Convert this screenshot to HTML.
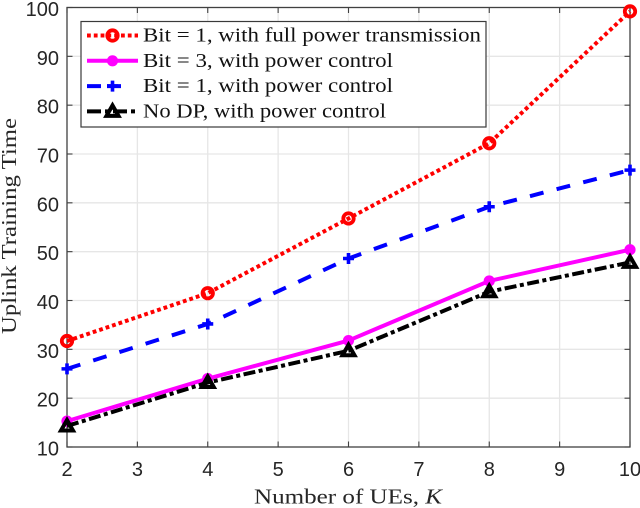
<!DOCTYPE html>
<html>
<head>
<meta charset="utf-8">
<style>
html,body{margin:0;padding:0;background:#fff;}
svg{display:block;filter:blur(0.35px);}
.tick{font-family:"Liberation Sans",sans-serif;font-size:20px;fill:#262626;}
.lab{font-family:"Liberation Serif",serif;font-size:21px;fill:#262626;}
.leg{font-family:"Liberation Serif",serif;font-size:20.5px;fill:#111;}
</style>
</head>
<body>
<svg id="chart" width="640" height="508" viewBox="0 0 640 508" xmlns="http://www.w3.org/2000/svg"></svg>
<script>
const categories = [2, 4, 6, 8, 10];
const fullPowerBit1 = [31.7, 41.5, 56.8, 72.2, 99.2];
const powerControlBit3 = [15.3, 24.0, 31.8, 44.0, 50.4];
const powerControlBit1 = [26.0, 35.2, 48.6, 59.2, 66.7];
const noDpPowerControl = [14.3, 23.2, 29.7, 41.8, 47.8];
const xTicks = [2, 3, 4, 5, 6, 7, 8, 9, 10];
const yTicks = [10, 20, 30, 40, 50, 60, 70, 80, 90, 100];
const legendLabels = [
  "Bit = 1, with full power transmission",
  "Bit = 3, with power control",
  "Bit = 1, with power control",
  "No DP, with power control"
];

const NS = "http://www.w3.org/2000/svg";
const svg = document.getElementById("chart");
const L = 67, R = 630, T = 7.5, B = 447;
const xScale = v => L + (v - 2) / 8 * (R - L);
const yScale = v => B - (v - 10) / 90 * (B - T);

function make(tag, attrs, parent) {
  const el = document.createElementNS(NS, tag);
  for (const k in attrs) el.setAttribute(k, attrs[k]);
  (parent || svg).appendChild(el);
  return el;
}

// Grid
const grid = make("g", {});


xTicks.forEach(t => {
  if (t === 2 || t === 10) return;
  const l = make("line", {x1: xScale(t), x2: xScale(t), y1: T, y2: B, stroke: "#e6e6e6", "stroke-width": 1.3}, grid);
  
  
});
yTicks.forEach(t => {
  if (t === 10 || t === 100) return;
  const l = make("line", {x1: L, x2: R, y1: yScale(t), y2: yScale(t), stroke: "#e6e6e6", "stroke-width": 1.3}, grid);
  
  
});

// Axes box
const box = make("rect", {x: L, y: T, width: R - L, height: B - T, fill: "none", stroke: "#404040", "stroke-width": 1.3});



// Ticks and tick labels
xTicks.forEach(t => {
  const x = xScale(t);
  const a = make("line", {x1: x, x2: x, y1: B, y2: B - 5.5, stroke: "#404040", "stroke-width": 1.1});
  
  
  const b = make("line", {x1: x, x2: x, y1: T, y2: T + 5.5, stroke: "#404040", "stroke-width": 1.1});
  
  
  const s = make("text", {x: x, y: 476, "text-anchor": "middle", class: "tick"});
  
  
  s.textContent = t;
});
yTicks.forEach(t => {
  const y = yScale(t);
  const a = make("line", {x1: L, x2: L + 5.5, y1: y, y2: y, stroke: "#404040", "stroke-width": 1.1});
  
  
  const b = make("line", {x1: R, x2: R - 5.5, y1: y, y2: y, stroke: "#404040", "stroke-width": 1.1});
  
  
  const s = make("text", {x: 59, y: y + 8.5, "text-anchor": "end", class: "tick"});
  
  
  s.textContent = t;
});

// Axis titles
const xTitle = make("text", {x: 254, y: 503.5, class: "lab", textLength: 188, lengthAdjust: "spacingAndGlyphs"});


xTitle.textContent = "Number of UEs, ";
const kVar = make("tspan", {"font-style": "italic"}, xTitle);
kVar.textContent = "K";
const yTitle = make("text", {transform: "translate(16,334) rotate(-90)", class: "lab", textLength: 216, lengthAdjust: "spacingAndGlyphs"});


yTitle.textContent = "Uplink Training Time";

// Markers
function marker(kind, x, y, color, parent) {
  let m;
  if (kind === "circle") m = make("circle", {cx: x, cy: y, r: 5.2, fill: "none", stroke: color, "stroke-width": 3.8}, parent);
  if (kind === "dot") m = make("circle", {cx: x, cy: y, r: 5.6, fill: color, stroke: "none"}, parent);
  if (kind === "plus") m = make("path", {d: `M${x-5.5} ${y}H${x+5.5}M${x} ${y-5.5}V${y+5.5}`, fill: "none", stroke: color, "stroke-width": 3.6}, parent);
  if (kind === "triangle") m = make("path", {d: `M${x} ${y-6}L${x+6} ${y+4.5}H${x-6}Z`, fill: "none", stroke: color, "stroke-width": 4, "stroke-linejoin": "miter"}, parent);
  
  
}

// Series
function drawSeries(name, values, color, dash, kind) {
  const g = make("g", {});
  
  
  const pts = values.map((v, i) => xScale(categories[i]) + "," + yScale(v)).join(" ");
  const attrs = {points: pts, fill: "none", stroke: color, "stroke-width": 4, "stroke-linejoin": "round"};
  if (dash) attrs["stroke-dasharray"] = dash;
  const line = make("polyline", attrs, g);
  
  
  values.forEach((v, i) => marker(kind, xScale(categories[i]), yScale(v), color, g));
}
drawSeries("series-full-power-bit-1", fullPowerBit1, "#ff0000", "3.8 3", "circle");
drawSeries("series-power-control-bit-3", powerControlBit3, "#ff00ff", "", "dot");
drawSeries("series-power-control-bit-1", powerControlBit1, "#0000ff", "14 13.5", "plus");
drawSeries("series-no-dp", noDpPowerControl, "#000000", "12 3.5 4 3.5", "triangle");

// Legend
const legend = make("g", {});


const legendBox = make("rect", {x: 81, y: 21.5, width: 405, height: 105.5, fill: "#fff", stroke: "#3a3a3a", "stroke-width": 1.2}, legend);


const legColors = ["#ff0000", "#ff00ff", "#0000ff", "#000000"];
const legDash = ["3.8 3", "", "14 6", "14 4 4 4"];
const legKinds = ["circle", "dot", "plus", "triangle"];
const legWidths = [338, 250, 250, 243];
legendLabels.forEach((label, i) => {
  const y = 35.5 + i * 25.3;
  const g = make("g", {}, legend);
  
  
  const attrs = {x1: 87, x2: i === 2 ? 127 : 138, y1: y, y2: y, stroke: legColors[i], "stroke-width": 4};
  if (legDash[i]) attrs["stroke-dasharray"] = legDash[i];
  const sample = make("line", attrs, g);
  
  
  marker(legKinds[i], 112.5, y, legColors[i], g);
  const t = make("text", {x: 143, y: y + 6, class: "leg", textLength: legWidths[i], lengthAdjust: "spacingAndGlyphs"}, g);
  
  
  t.textContent = label;
});
</script>
</body>
</html>
